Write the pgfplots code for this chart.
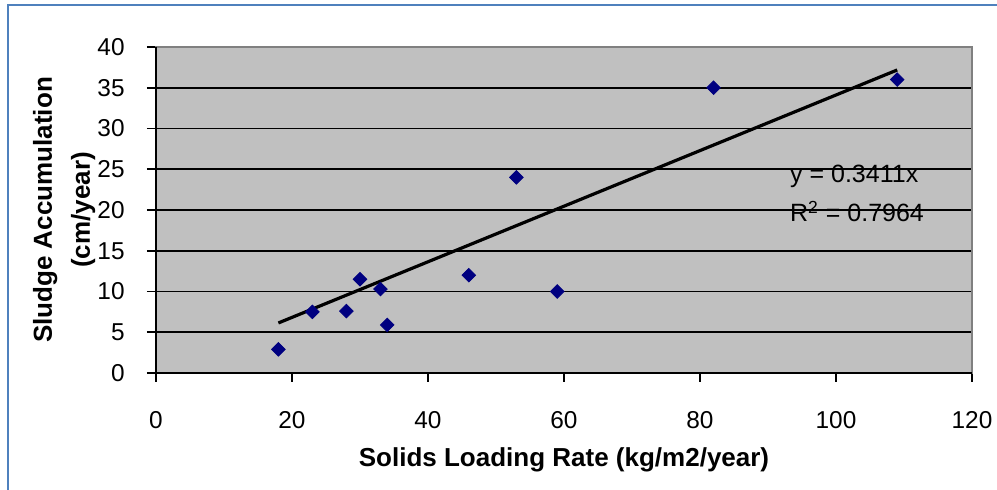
\documentclass[border=0pt]{standalone}
\usepackage{pgfplots}
\pgfplotsset{compat=1.18}
\usepackage{fontspec}
\setmainfont{Liberation Sans}
\definecolor{plotgray}{HTML}{C0C0C0}
\definecolor{navymark}{HTML}{000080}
\definecolor{frameblue}{HTML}{4F81BD}
\definecolor{boxgray}{HTML}{808080}
\begin{document}
\begin{tikzpicture}
\path[use as bounding box] (0,0) rectangle (498.5pt,245pt);
\fill[white] (0,0) rectangle (498.5pt,245pt);
\draw[frameblue, line width=1.2pt] (4pt,0) -- (4pt,242.5pt) -- (498.5pt,242.5pt);
\begin{axis}[
  at={(78pt,58.5pt)}, anchor=south west,
  scale only axis, width=408pt, height=163pt,
  xmin=0, xmax=120, ymin=0, ymax=40,
  xtick={0,20,...,120}, ytick={0,5,...,40},
  axis background/.style={fill=plotgray},
  axis line style={draw=boxgray, line width=0.8pt},
  ymajorgrids, grid style={black, line width=0.8pt},
  tick align=outside, major tick length=4.5pt,
  tick style={black, line width=0.8pt},
  xtick pos=bottom, ytick pos=left,
  /pgf/number format/assume math mode=true,
  ticklabel style={font=\fontsize{12.2}{14}\selectfont, inner sep=0pt},
  yticklabel style={anchor=east, xshift=-11pt},
  xticklabel style={anchor=center, yshift=-19pt},
  xlabel={Solids Loading Rate (kg/m2/year)},
  xlabel style={font=\fontsize{13}{15}\selectfont\bfseries, at={(axis description cs:0.5,-0.2669)}, anchor=center},
  ylabel={Sludge Accumulation\\(cm/year)},
  ylabel style={font=\fontsize{13}{19}\selectfont\bfseries, align=center, at={(axis description cs:-0.1127,0.5)}, anchor=center},
  clip=false,
]
\addplot[only marks, mark=square*, mark size=2.4pt, mark options={rotate=45, fill=navymark, draw=navymark}] coordinates {
  (18,2.9) (23,7.5) (28,7.6) (30,11.5) (33,10.3) (34,5.9) (46,12.0) (53,24.0) (59,10.0) (82,35.0) (109,36.0)
};
\addplot[black, line width=1.6pt] coordinates {(18,6.14) (109,37.18)};
\draw[boxgray, line width=0.8pt] (axis cs:0,40) -- (axis cs:120,40) -- (axis cs:120,0);
\draw[black, line width=1pt] (axis cs:0,40) -- (axis cs:0,0) -- (axis cs:120,0);
\node[anchor=west, inner sep=0pt, font=\fontsize{12.5}{14}\selectfont] at (axis cs:93.2,24.1) {y = 0.3411x};
\node[anchor=west, inner sep=0pt, font=\fontsize{12.5}{14}\selectfont] at (axis cs:93.2,19.8) {R\textsuperscript{2} = 0.7964};
\end{axis}
\end{tikzpicture}
\end{document}
